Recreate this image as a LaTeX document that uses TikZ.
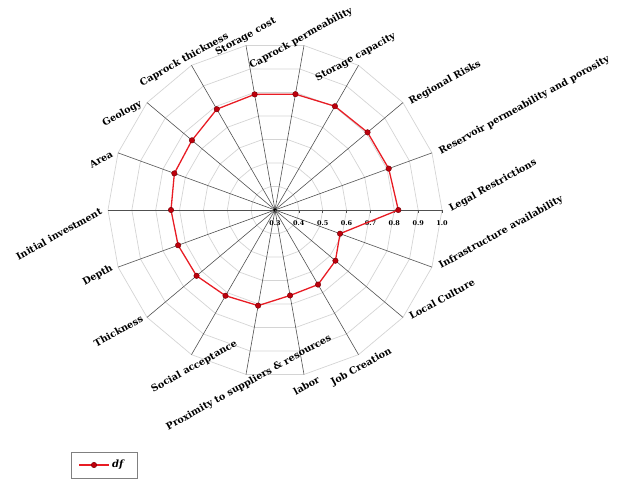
\documentclass[tikz,border=0pt]{standalone}
\usepackage{fontspec}
\setmainfont{DejaVu Serif}
\usetikzlibrary{positioning}
\definecolor{gridgray}{RGB}{212,212,212}
\definecolor{spokegray}{RGB}{80,80,80}
\definecolor{dfred}{RGB}{232,28,36}
\definecolor{dfdark}{RGB}{190,0,12}
\tikzstyle{axislabel} = [font=\bfseries\fontsize{9.6}{11}\selectfont, rotate=29, inner sep=1pt]
\tikzstyle{ticklabel} = [font=\bfseries\fontsize{6.5}{7}\selectfont, inner sep=0pt]
\tikzstyle{spoke} = [draw=spokegray, line width=0.6pt]
\tikzstyle{ring} = [draw=gridgray, line width=0.7pt]
\tikzstyle{dfline} = [draw=dfred, line width=1.3pt, line join=round]
\tikzstyle{dfmark} = [circle, fill=dfdark, draw=dfdark!60!black, line width=0.4pt, inner sep=0pt, minimum size=5.5pt]

\begin{document}
\begin{tikzpicture}[x=1pt, y=1pt]
    \useasboundingbox (0,0) rectangle (623,481);
    \begin{scope}[shift={(275,271)}]
    % grid rings 0.4 ... 1.0
    \foreach \k in {1,...,7}
        \draw [ring] (0:{23.86*\k}) \foreach \a in {20,40,...,340} { -- (\a:{23.86*\k}) } -- cycle;

    \coordinate (c) at (0,0);
    \coordinate (a0) at (0:167);
    \coordinate (a20) at (20:167);
    \coordinate (a40) at (40:167);
    \coordinate (a60) at (60:167);
    \coordinate (a80) at (80:167);
    \coordinate (a100) at (100:167);
    \coordinate (a120) at (120:167);
    \coordinate (a140) at (140:167);
    \coordinate (a160) at (160:167);
    \coordinate (a180) at (180:167);
    \coordinate (a200) at (200:167);
    \coordinate (a220) at (220:167);
    \coordinate (a240) at (240:167);
    \coordinate (a260) at (260:167);
    \coordinate (a280) at (280:167);
    \coordinate (a300) at (300:167);
    \coordinate (a320) at (320:167);
    \coordinate (a340) at (340:167);

    \foreach \a in {0,20,...,340}
        \draw [spoke] (c) -- (a\a);
    \fill [black] (c) circle (1.8);

    % ticks on the scale axis
    \foreach \v [count=\k from 0] in {0.3,0.4,0.5,0.6,0.7,0.8,0.9,1.0} {
        \draw [spoke] ({23.86*\k},0) -- ({23.86*\k},-3);
        \node (t\k) [ticklabel] at ({23.86*\k},-13) {\v};
    }

    \node (legal) [axislabel, right=7pt of a0] {Legal Restrictions};
    \node (reservoir) [axislabel, right=7pt of a20] {Reservoir permeability and porosity};
    \node (regional) [axislabel, right=6pt of a40] {Regional Risks};
    \node (capacity) [axislabel, above=3pt of a60] {Storage capacity};
    \node (capperm) [axislabel, above=2pt of a80] {Caprock permeability};
    \node (cost) [axislabel, above=2pt of a100, xshift=3pt] {Storage cost};
    \node (capthick) [axislabel, above=3pt of a120, xshift=-5pt] {Caprock thickness};
    \node (geology) [axislabel, left=5pt of a140] {Geology};
    \node (area) [axislabel, left=5pt of a160] {Area};
    \node (invest) [axislabel, left=6pt of a180] {Initial investment};
    \node (depth) [axislabel, left=5pt of a200] {Depth};
    \node (thick) [axislabel, left=4pt of a220] {Thickness};
    \node (social) [axislabel, below=7pt of a240] {Social acceptance};
    \node (proximity) [axislabel, below=3pt of a260] {Proximity to suppliers \& resources};
    \node (labor) [axislabel, below=7pt of a280] {labor};
    \node (jobs) [axislabel, below=7pt of a300] {Job Creation};
    \node (culture) [axislabel, right=6pt of a320] {Local Culture};
    \node (infra) [axislabel, right=7pt of a340] {Infrastructure availability};

    % df values
    \coordinate (d0) at (0:123.3);
    \coordinate (d20) at (20:121);
    \coordinate (d40) at (40:120.8);
    \coordinate (d60) at (60:119.8);
    \coordinate (d80) at (80:117.6);
    \coordinate (d100) at (100:117.4);
    \coordinate (d120) at (120:116.4);
    \coordinate (d140) at (140:108.4);
    \coordinate (d160) at (160:107.1);
    \coordinate (d180) at (180:104);
    \coordinate (d200) at (200:103.1);
    \coordinate (d220) at (220:102.4);
    \coordinate (d240) at (240:99);
    \coordinate (d260) at (260:97.1);
    \coordinate (d280) at (280:86.8);
    \coordinate (d300) at (300:86.1);
    \coordinate (d320) at (320:78.9);
    \coordinate (d340) at (340:69.2);

    \draw [dfline] (d0) -- (d20) -- (d40) -- (d60) -- (d80) -- (d100) -- (d120) -- (d140) -- (d160)
        -- (d180) -- (d200) -- (d220) -- (d240) -- (d260) -- (d280) -- (d300) -- (d320) -- (d340) -- cycle;
    \foreach \a in {0,20,...,340}
        \node (m\a) [dfmark] at (d\a) {};
    \end{scope}

    % legend
    \node (legbox) [draw=gray, line width=0.6pt, minimum width=66pt, minimum height=26pt] at (104,16) {};
    \coordinate (legl) at (79,16);
    \coordinate (legr) at (109,16);
    \draw [dfline] (legl) -- (legr);
    \node (legmark) [dfmark] at (94,16) {};
    \node (legtext) [right=3pt of legr, font=\bfseries\itshape\fontsize{10}{12}\selectfont, inner sep=0pt] {df};
\end{tikzpicture}
\end{document}
